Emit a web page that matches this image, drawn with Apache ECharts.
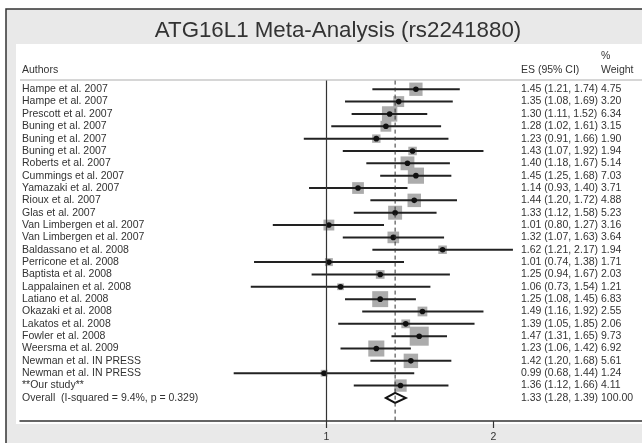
<!DOCTYPE html>
<html>
<head>
<meta charset="utf-8">
<script src="https://cdn.jsdelivr.net/npm/echarts@6/dist/echarts.min.js"></script>
<style>
    html, body { margin: 0; padding: 0; background: #fff; }
    #chart { width: 642px; height: 443px; }
</style>
</head>
<body>
<div id="chart"></div>
<script>
    var authors = [
        'Hampe et al. 2007', 'Hampe et al. 2007', 'Prescott et al. 2007', 'Buning et al. 2007',
        'Buning et al. 2007', 'Buning et al. 2007', 'Roberts et al. 2007', 'Cummings et al. 2007',
        'Yamazaki et al. 2007', 'Rioux et al. 2007', 'Glas et al. 2007', 'Van Limbergen et al. 2007',
        'Van Limbergen et al. 2007', 'Baldassano et al. 2008', 'Perricone et al. 2008', 'Baptista et al. 2008',
        'Lappalainen et al. 2008', 'Latiano et al. 2008', 'Okazaki et al. 2008', 'Lakatos et al. 2008',
        'Fowler et al. 2008', 'Weersma et al. 2009', 'Newman et al. IN PRESS', 'Newman et al. IN PRESS',
        '**Our study**', 'Overall  (I-squared = 9.4%, p = 0.329)'
    ];
    var es     = [1.45, 1.35, 1.30, 1.28, 1.23, 1.43, 1.40, 1.45, 1.14, 1.44, 1.33, 1.01, 1.32, 1.62, 1.01, 1.25, 1.06, 1.25, 1.49, 1.39, 1.47, 1.23, 1.42, 0.99, 1.36, 1.33];
    var lower  = [1.21, 1.08, 1.11, 1.02, 0.91, 1.07, 1.18, 1.25, 0.93, 1.20, 1.12, 0.80, 1.07, 1.21, 0.74, 0.94, 0.73, 1.08, 1.16, 1.05, 1.31, 1.06, 1.20, 0.68, 1.12, 1.28];
    var upper  = [1.74, 1.69, 1.52, 1.61, 1.66, 1.92, 1.67, 1.68, 1.40, 1.72, 1.58, 1.27, 1.63, 2.17, 1.38, 1.67, 1.54, 1.45, 1.92, 1.85, 1.65, 1.42, 1.68, 1.44, 1.66, 1.39];
    var weight = [4.75, 3.20, 6.34, 3.15, 1.90, 1.94, 5.14, 7.03, 3.71, 4.88, 5.23, 3.16, 3.64, 1.94, 1.71, 2.03, 1.21, 6.83, 2.55, 2.06, 9.73, 6.92, 5.61, 1.24, 4.11, 100.00];
    var overallRow = 25;
    var tickValues = [1, 2];

    // x axis is drawn on log2 of the ratio (Stata forest plot uses a log scale)
    function log2(v) { return Math.log(v) / Math.LN2; }

    var xMin = -1.8375, xMax = 1.8915;   // axis spans whole white panel
    var yMin = -0.7, yMax = 26.87;        // rows, top to bottom
    var FONT = 'Liberation Sans';
    var TXT = '#333';
    var FS = 10.5;

    var studyData = [], textData = [];
    for (var i = 0; i < authors.length; i++) {
        if (i !== overallRow)
            studyData.push([i, log2(es[i]), log2(lower[i]), log2(upper[i]), weight[i]]);
        textData.push([i, log2(es[i])]);
    }
    var overallData = [[overallRow, log2(es[overallRow]), log2(lower[overallRow]), log2(upper[overallRow])]];

    function esLabel(i) {
        return es[i].toFixed(2) + ' (' + lower[i].toFixed(2) + ', ' + upper[i].toFixed(2) + ')';
    }

    var chart = echarts.init(document.getElementById('chart'));
    chart.setOption({
        animation: false,
        graphic: [
            { type: 'rect', z: -10, silent: true, shape: { x: 6, y: 9, width: 680, height: 470 },
              style: { fill: '#e9e9e9', stroke: '#333', lineWidth: 1.5 } },
            { type: 'rect', z: -9, silent: true, shape: { x: 16, y: 44, width: 680, height: 380 },
              style: { fill: '#fff' } },
            { type: 'line', z: -8, silent: true, shape: { x1: 20, y1: 80, x2: 642, y2: 80 },
              style: { stroke: '#c8c8c8', lineWidth: 1.5 } },
            { type: 'text', x: 338, y: 31, style: { text: 'ATG16L1 Meta-Analysis (rs2241880)', fontSize: 22.3,
              fontFamily: FONT, fill: TXT, align: 'center', verticalAlign: 'middle' } },
            { type: 'text', x: 22, y: 70, style: { text: 'Authors', fontSize: FS, fontFamily: FONT, fill: TXT, verticalAlign: 'middle' } },
            { type: 'text', x: 521, y: 70, style: { text: 'ES (95% CI)', fontSize: FS, fontFamily: FONT, fill: TXT, verticalAlign: 'middle' } },
            { type: 'text', x: 601, y: 56, style: { text: '%', fontSize: FS, fontFamily: FONT, fill: TXT, verticalAlign: 'middle' } },
            { type: 'text', x: 601, y: 70, style: { text: 'Weight', fontSize: FS, fontFamily: FONT, fill: TXT, verticalAlign: 'middle' } }
        ],
        grid: { left: 20, right: 0, top: 80.6, bottom: 19 },
        xAxis: {
            type: 'value', min: xMin, max: xMax,
            splitLine: { show: false },
            axisLine: { onZero: false, lineStyle: { color: '#333', width: 1.5 } },
            axisTick: { customValues: tickValues.map(log2), length: 7, lineStyle: { color: '#333', width: 1.2 } },
            axisLabel: { customValues: tickValues.map(log2), margin: 11, fontSize: FS, fontFamily: FONT, color: TXT,
                formatter: function (v) { return String(Math.round(Math.pow(2, v))); } }
        },
        yAxis: { type: 'value', inverse: true, min: yMin, max: yMax, show: false },
        series: [
            {   // no-effect line at 1
                type: 'line', symbol: 'none', silent: true,
                data: [[0, yMin], [0, yMax]],
                lineStyle: { color: '#333', width: 1.2 }
            },
            {   // pooled estimate
                type: 'line', symbol: 'none', silent: true,
                data: [[log2(es[overallRow]), yMin], [log2(es[overallRow]), yMax]],
                lineStyle: { color: '#333', width: 1, type: [4, 3] }
            },
            {
                type: 'custom', data: studyData, encode: { x: [1, 2, 3], y: 0 },
                renderItem: function (params, api) {
                    var row = api.value(0);
                    var c = api.coord([api.value(1), row]);
                    var l = api.coord([api.value(2), row]);
                    var h = api.coord([api.value(3), row]);
                    var side = 6.1 * Math.sqrt(api.value(4));
                    return { type: 'group', children: [
                        { type: 'rect', shape: { x: c[0] - side / 2, y: c[1] - side / 2, width: side, height: side },
                          style: { fill: '#acacac' } },
                        { type: 'line', shape: { x1: l[0], y1: l[1], x2: h[0], y2: h[1] },
                          style: { stroke: '#222', lineWidth: 2 } },
                        { type: 'circle', shape: { cx: c[0], cy: c[1], r: 2.8 }, style: { fill: '#111' } }
                    ]};
                }
            },
            {
                type: 'custom', data: overallData, encode: { x: [1, 2, 3], y: 0 },
                renderItem: function (params, api) {
                    var row = api.value(0);
                    var c = api.coord([api.value(1), row]);
                    var l = api.coord([api.value(2), row]);
                    var h = api.coord([api.value(3), row]);
                    return { type: 'polygon',
                        shape: { points: [[l[0], c[1]], [c[0], c[1] - 5], [h[0], c[1]], [c[0], c[1] + 5]] },
                        style: { fill: '#fff', stroke: '#111', lineWidth: 2 } };
                }
            },
            {
                type: 'custom', data: textData, encode: { x: 1, y: 0 },
                renderItem: function (params, api) {
                    var i = params.dataIndex;
                    var y = api.coord([0, api.value(0)])[1];
                    var st = { fontSize: FS, fontFamily: FONT, fill: TXT, verticalAlign: 'middle' };
                    return { type: 'group', children: [
                        { type: 'text', x: 22, y: y, style: Object.assign({ text: authors[i] }, st) },
                        { type: 'text', x: 521, y: y, style: Object.assign({ text: esLabel(i) }, st) },
                        { type: 'text', x: 601, y: y, style: Object.assign({ text: weight[i].toFixed(2) }, st) }
                    ]};
                }
            }
        ]
    });
</script>
</body>
</html>
